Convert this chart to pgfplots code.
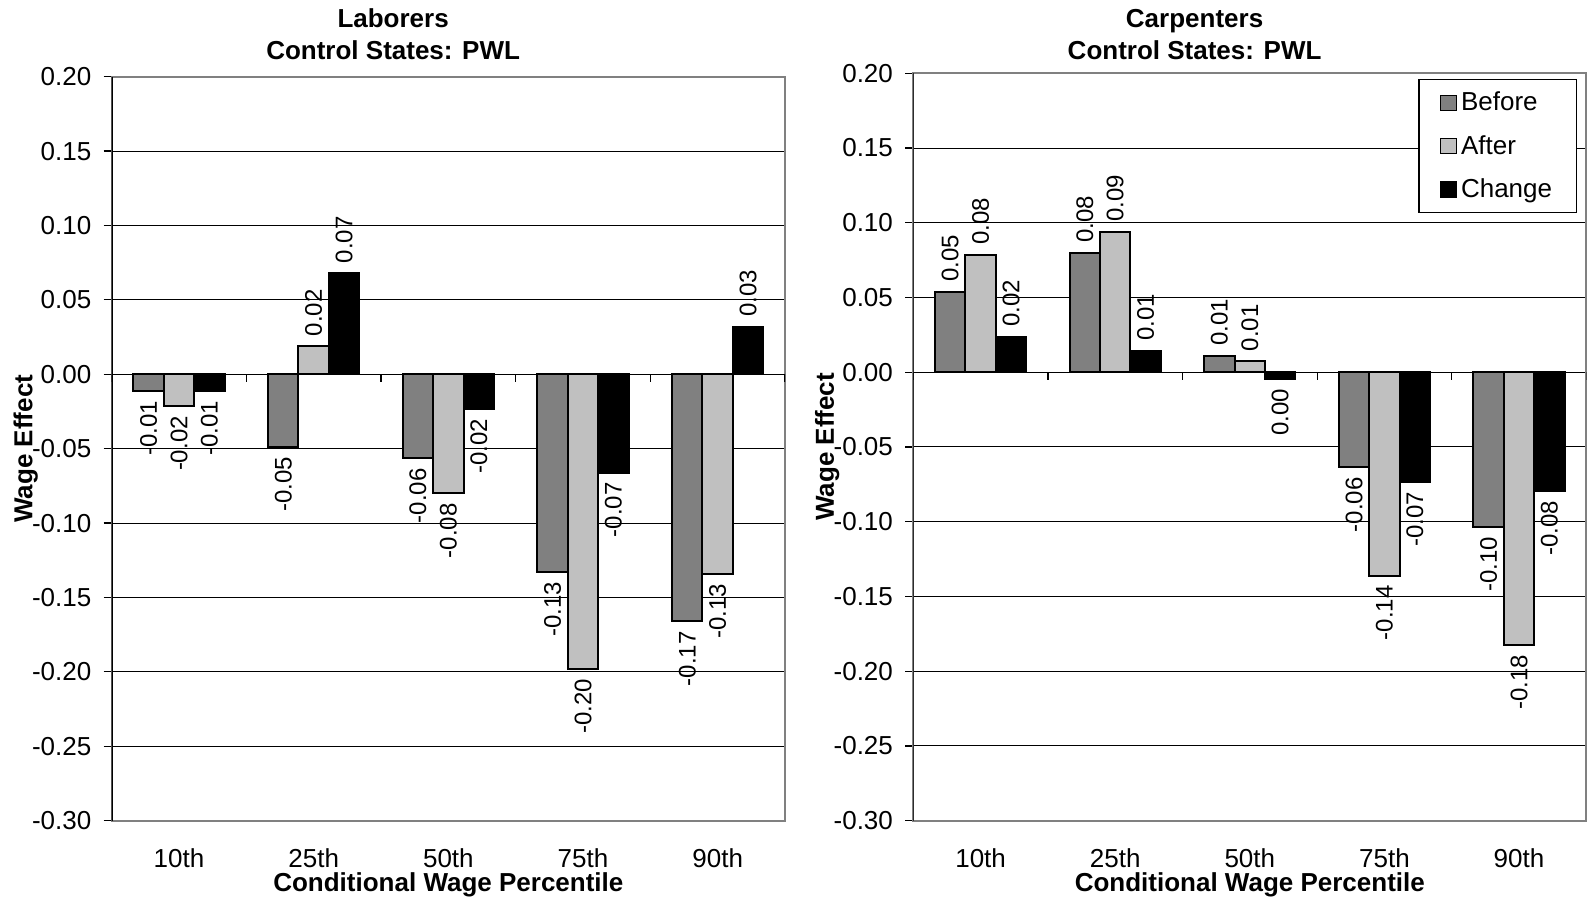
\documentclass[border=0pt]{standalone}
\usepackage{pgfplots}
\pgfplotsset{compat=1.18}
\usepackage{fontspec}
\setmainfont{Liberation Sans}
\usepackage{graphicx}
\definecolor{cBefore}{HTML}{808080}
\definecolor{cAfter}{HTML}{C0C0C0}
\newcommand{\bigf}{\fontsize{13}{16.2}\selectfont}
\newcommand{\smallf}{\fontsize{12}{14}\selectfont}
\pgfplotsset{
  myaxis/.style={
    scale only axis,
    xmin=-0.5, xmax=4.5, ymin=-0.3, ymax=0.2,
    ybar=0pt, bar width=15.2pt,
    xtick={0,1,2,3,4}, xticklabels={10th,25th,50th,75th,90th},
    ytick={-0.3,-0.25,-0.2,-0.15,-0.1,-0.05,0,0.05,0.1,0.15,0.2},
    yticklabels={-0.30,-0.25,-0.20,-0.15,-0.10,-0.05,0.00,0.05,0.10,0.15,0.20},
    ymajorgrids, grid style={black, line width=0.5pt},
    axis line style={gray, line width=1pt},
    x tick style={draw=none},
    y tick style={black, line width=0.6pt},
    ytick pos=left, tick align=outside, major tick length=4pt,
    yticklabel style={font=\bigf, inner sep=0pt, anchor=east, xshift=-6pt},
    xticklabel style={font=\bigf, inner sep=0pt, anchor=north, yshift=-10pt},
    xlabel={Conditional Wage Percentile},
    ylabel={Wage Effect},
    xlabel style={font=\bfseries\bigf, at={(rel axis cs:0.5,0)}, anchor=center, yshift=-32pt},
    ylabel style={font=\bfseries\bigf, at={(rel axis cs:0,0.5)}, anchor=center, rotate=0, yshift=43pt},
    title style={at={(rel axis cs:0.5,1)}, anchor=center, xshift=-27.6pt, align=center, font=\bfseries\bigf},
    point meta=y,
    visualization depends on={value \thisrow{label} \as \lbl},
    nodes near coords={\rotatebox{90}{\lbl}},
    nodes near coords align={vertical},
    every node near coord/.append style={font=\smallf, inner sep=4.5pt, text=black},
    legend image code/.code={\draw[#1, line width=0.7pt] (0pt,-3.75pt) rectangle (8pt,3.75pt);},
  },
  bB/.style={fill=cBefore, draw=black, line width=1pt},
  bA/.style={fill=cAfter, draw=black, line width=1pt},
  bC/.style={fill=black, draw=black, line width=1pt},
}
\begin{document}
\begin{tikzpicture}
\useasboundingbox (0,0) rectangle (794pt,451.5pt);
% ---------------- Laborers ----------------
\begin{axis}[myaxis, at={(55.85pt,41.15pt)}, anchor=south west,
  width=336.65pt, height=372pt,
  title={Laborers\\Control States: PWL}, title style={yshift=15.15pt}]
\addplot[bB] table {
x y label
0 -0.011 -0.01
1 -0.0487 -0.05
2 -0.0565 -0.06
3 -0.133 -0.13
4 -0.166 -0.17
};
\addplot[bA] table {
x y label
0 -0.0215 -0.02
1 0.019 0.02
2 -0.080 -0.08
3 -0.198 -0.20
4 -0.134 -0.13
};
\addplot[bC] table {
x y label
0 -0.0112 -0.01
1 0.068 0.07
2 -0.0232 -0.02
3 -0.066 -0.07
4 0.032 0.03
};
\pgfplotsinvokeforeach{-0.5,0.5,1.5,2.5,3.5,4.5}{\draw[black, line width=0.6pt] (axis cs:#1,0) -- ([yshift=-4pt]axis cs:#1,0);}
\draw[black, line width=1pt] (rel axis cs:0,0) -- (rel axis cs:0,1);
\end{axis}
% ---------------- Carpenters ----------------
\begin{axis}[myaxis, at={(456.65pt,41.15pt)}, anchor=south west,
  width=336.5pt, height=373.7pt,
  title={Carpenters\\Control States: PWL}, title style={yshift=13.45pt},
  legend style={at={(rel axis cs:1,1)}, anchor=north east, xshift=-4.5pt, yshift=-3pt,
    draw=black, line width=0.6pt, font=\bigf, row sep=6.8pt, inner xsep=10.3pt, inner ysep=4pt,
    legend cell align=left},
  legend entries={Before,After,Change}]
\addplot[bB] table {
x y label
0 0.054 0.05
1 0.080 0.08
2 0.011 0.01
3 -0.0637 -0.06
4 -0.1037 -0.10
};
\addplot[bA] table {
x y label
0 0.0786 0.08
1 0.094 0.09
2 0.0075 0.01
3 -0.136 -0.14
4 -0.1824 -0.18
};
\addplot[bC] table {
x y label
0 0.0237 0.02
1 0.0145 0.01
2 -0.0047 0.00
3 -0.0732 -0.07
4 -0.0793 -0.08
};
\pgfplotsinvokeforeach{-0.5,0.5,1.5,2.5,3.5,4.5}{\draw[black, line width=0.6pt] (axis cs:#1,0) -- ([yshift=-4pt]axis cs:#1,0);}
\draw[black, line width=1pt] (rel axis cs:0,0) -- (rel axis cs:0,1);
\end{axis}
\end{tikzpicture}
\end{document}
